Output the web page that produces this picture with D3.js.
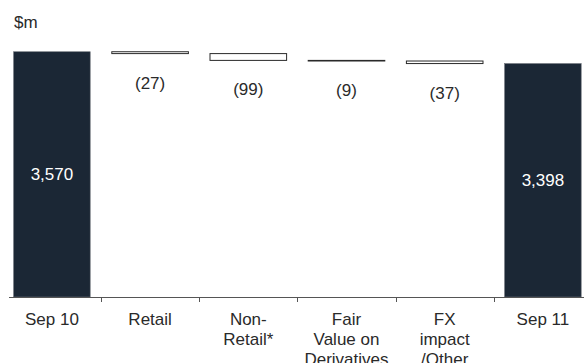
<!DOCTYPE html>
<html>
<head>
<meta charset="utf-8">
<script src="https://cdn.jsdelivr.net/npm/d3@7"></script>
<style>
  html, body { margin: 0; padding: 0; background: #fff; }
  svg { display: block; font-family: "Liberation Sans", Arial, sans-serif; }
</style>
</head>
<body>
<svg id="chart" width="584" height="363"></svg>
<script>
const categories = ["Sep 10", "Retail", "Non-Retail*", "Fair Value on Derivatives", "FX impact /Other", "Sep 11"];
const categoryLines = [["Sep 10"], ["Retail"], ["Non-", "Retail*"], ["Fair", "Value on", "Derivatives"], ["FX", "impact", "/Other"], ["Sep 11"]];
const values = [3570, -27, -99, -9, -37, 3398];
const barTypes = ["total", "delta", "delta", "delta", "delta", "total"];
const valueLabels = ["3,570", "(27)", "(99)", "(9)", "(37)", "3,398"];
const unitLabel = "$m";

const svg = d3.select("#chart");
const x = d3.scaleBand().domain(categories).range([2.8, 592]).paddingInner(0.22).paddingOuter(0.11);
const y = d3.scaleLinear().domain([0, 4000]).range([297, 22.2]);

// build waterfall rows
let running = 0;
const rows = categories.map((c, i) => {
  let lo, hi;
  if (barTypes[i] === "total") { lo = 0; hi = values[i]; running = values[i]; }
  else { const start = running; running = start + values[i]; lo = Math.min(start, running); hi = Math.max(start, running); }
  return { c, i, lo, hi, type: barTypes[i], label: valueLabels[i], lines: categoryLines[i] };
});

// bars
svg.append("g").selectAll("rect").data(rows).join("rect")
  .attr("x", d => x(d.c))
  .attr("width", x.bandwidth())
  .attr("y", d => y(d.hi))
  .attr("height", d => Math.max(0.6, y(d.lo) - y(d.hi)))
  .attr("fill", d => d.type === "total" ? "#1b2735" : "#ffffff")
  .attr("stroke", d => d.type === "total" ? "#6b7078" : "#2a2a2a")
  .attr("stroke-width", d => d.type === "total" ? 0.6 : 1);

// value labels
svg.append("g").selectAll("text").data(rows).join("text")
  .attr("x", d => x(d.c) + x.bandwidth() / 2)
  .attr("y", d => d.type === "total" ? (y(d.hi) + y(0)) / 2 : y(d.lo) + 35)
  .attr("dy", d => d.type === "total" ? "0.35em" : null)
  .attr("text-anchor", "middle")
  .attr("font-size", 17)
  .attr("fill", d => d.type === "total" ? "#ffffff" : "#2a2a2a")
  .text(d => d.label);

// axis line
svg.append("line").attr("x1", 9).attr("x2", 584).attr("y1", 297.5).attr("y2", 297.5)
  .attr("stroke", "#555").attr("stroke-width", 1);

// ticks between categories
const gap = x.step() - x.bandwidth();
svg.append("g").selectAll("line").data(categories.slice(1)).join("line")
  .attr("x1", c => Math.round(x(c) - gap / 2) + 0.5)
  .attr("x2", c => Math.round(x(c) - gap / 2) + 0.5)
  .attr("y1", 297.5).attr("y2", 302)
  .attr("stroke", "#555").attr("stroke-width", 1);

// category labels
const lab = svg.append("g").selectAll("text").data(rows).join("text")
  .attr("text-anchor", "middle")
  .attr("font-size", 17)
  .attr("fill", "#2a2a2a")
  .attr("transform", d => `translate(${x(d.c) + x.bandwidth() / 2},325)`);
lab.selectAll("tspan").data(d => d.lines).join("tspan")
  .attr("x", 0).attr("y", (t, j) => j * 20)
  .text(t => t);

// unit label
svg.append("text").attr("x", 14).attr("y", 28).attr("font-size", 17).attr("fill", "#2a2a2a").text(unitLabel);
</script>
</body>
</html>
